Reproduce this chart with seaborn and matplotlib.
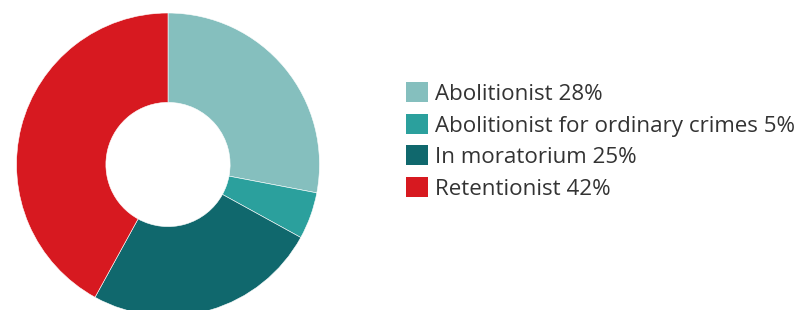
import matplotlib
matplotlib.use("Agg")
import matplotlib.pyplot as plt
import seaborn as sns
from matplotlib.patches import Patch

sns.set_theme(style="white")
plt.rcParams['font.family'] = ['Open Sans', 'DejaVu Sans']

labels = ["Abolitionist", "Abolitionist for ordinary crimes", "In moratorium", "Retentionist"]
shares = [28, 5, 25, 42]
colors = sns.color_palette(["#85bfbe", "#2ba09d", "#10686d", "#d71920"])

fig = plt.figure(figsize=(8.03, 3.10), dpi=100)
ax = fig.add_axes([16.5 / 803, -6 / 310, 303 / 803, 303 / 310])
ax.pie(shares, colors=colors, startangle=90, counterclock=False, radius=1,
       wedgeprops=dict(width=0.59, edgecolor="white", linewidth=0.4))
ax.set_xlim(-1, 1)
ax.set_ylim(-1, 1)
ax.set_aspect("equal")
ax.axis("off")

handles = [Patch(facecolor=c, edgecolor="none") for c in colors]
texts = [f"{l} {s}%" for l, s in zip(labels, shares)]
fig.legend(handles, texts, loc="center left", bbox_to_anchor=(406 / 803, 1 - 141 / 310),
           frameon=False, fontsize=16.1, handlelength=1.0, handleheight=1.0,
           handletextpad=0.3, labelspacing=0.4, borderaxespad=0, borderpad=0,
           labelcolor="#333333")

fig.savefig("out.png", dpi=100)
